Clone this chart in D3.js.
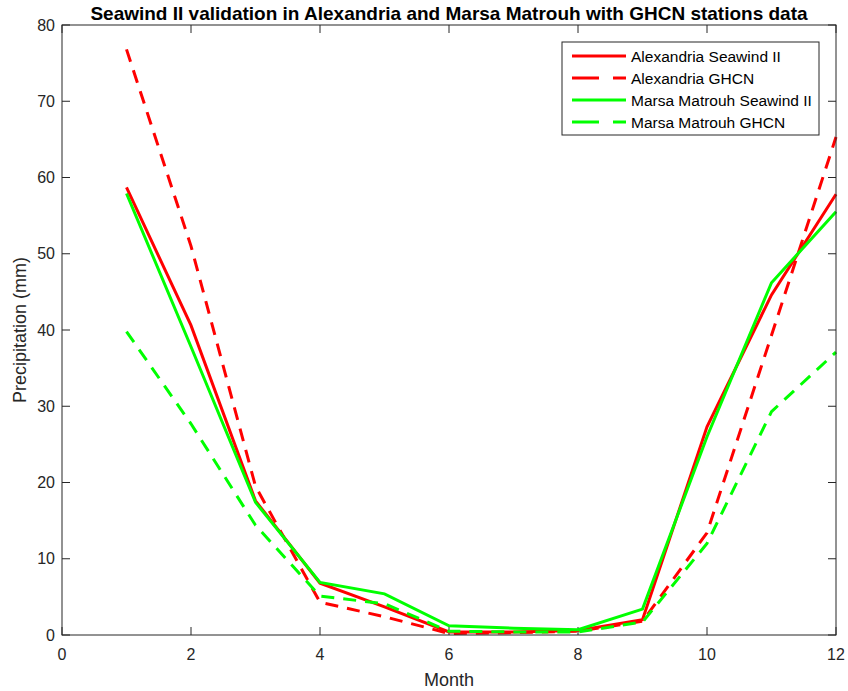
<!DOCTYPE html>
<html>
<head>
<meta charset="utf-8">
<script src="https://cdn.jsdelivr.net/npm/d3@7"></script>
<style>
  body { margin: 0; background: #fff; }
  svg { display: block; font-family: "Liberation Sans", Arial, Helvetica, sans-serif; }
</style>
</head>
<body>
<svg id="chart" width="848" height="691"></svg>
<script>
const months = [1, 2, 3, 4, 5, 6, 7, 8, 9, 10, 11, 12];
const alexSeawind = [58.7, 40.6, 17.6, 6.8, 3.7, 0.4, 0.4, 0.6, 2.0, 27.3, 44.6, 57.8];
const alexGhcn = [76.8, 51.0, 19.5, 4.3, 2.4, 0.2, 0.3, 0.5, 1.8, 13.4, 39.3, 65.3];
const matrouhSeawind = [57.9, 37.8, 17.4, 6.9, 5.4, 1.2, 0.9, 0.7, 3.4, 26.0, 46.2, 55.5];
const matrouhGhcn = [39.8, 27.7, 14.4, 5.1, 4.1, 0.5, 0.4, 0.4, 1.7, 12.0, 29.3, 37.1];
const xTicks = [0, 2, 4, 6, 8, 10, 12];
const yTicks = [0, 10, 20, 30, 40, 50, 60, 70, 80];

const series = [
  { name: "Alexandria Seawind II", values: alexSeawind, color: "#ff0000", dash: null },
  { name: "Alexandria GHCN", values: alexGhcn, color: "#ff0000", dash: "13,9" },
  { name: "Marsa Matrouh Seawind II", values: matrouhSeawind, color: "#00ff00", dash: null },
  { name: "Marsa Matrouh GHCN", values: matrouhGhcn, color: "#00ff00", dash: "13,9" }
];

const svg = d3.select("#chart");
const pl = 62, pr = 836, pt = 25, pb = 635;
const axisColor = "#262626";

var x = d3.scaleLinear().domain([0, 12]).range([pl, pr]);
var y = d3.scaleLinear().domain([0, 80]).range([pb, pt]);

// ticks, inward on all four sides (box on)
const tl = 8;
const g = svg.append("g").attr("stroke", axisColor).attr("stroke-width", 1);
xTicks.forEach(t => {
  g.append("line").attr("x1", x(t)).attr("x2", x(t)).attr("y1", pb).attr("y2", pb - tl);
  g.append("line").attr("x1", x(t)).attr("x2", x(t)).attr("y1", pt).attr("y2", pt + tl);
});
yTicks.forEach(t => {
  g.append("line").attr("x1", pl).attr("x2", pl + tl).attr("y1", y(t)).attr("y2", y(t));
  g.append("line").attr("x1", pr).attr("x2", pr - tl).attr("y1", y(t)).attr("y2", y(t));
});

svg.selectAll(".xlab").data(xTicks).join("text")
    .attr("x", d => x(d)).attr("y", 660)
    .attr("text-anchor", "middle").attr("font-size", 16).attr("fill", axisColor)
    .text(d => d);
svg.selectAll(".ylab").data(yTicks).join("text")
    .attr("x", pl - 7).attr("y", d => y(d) + 5.5)
    .attr("text-anchor", "end").attr("font-size", 16).attr("fill", axisColor)
    .text(d => d);

// lines
const line = d3.line().x((d, i) => x(months[i])).y(d => y(d));
series.forEach(s => {
  svg.append("path")
      .attr("d", line(s.values))
      .attr("fill", "none")
      .attr("stroke", s.color)
      .attr("stroke-width", 3)
      .attr("stroke-dasharray", s.dash);
});

// box
svg.append("rect")
    .attr("x", pl).attr("y", pt)
    .attr("width", pr - pl).attr("height", pb - pt)
    .attr("fill", "none").attr("stroke", axisColor).attr("stroke-width", 1);

// title + axis labels
svg.append("text")
    .attr("x", (pl + pr) / 2).attr("y", 20)
    .attr("text-anchor", "middle").attr("font-size", 19).attr("font-weight", "bold")
    .attr("fill", "#000")
    .text("Seawind II validation in Alexandria and Marsa Matrouh with GHCN stations data");
svg.append("text")
    .attr("x", (pl + pr) / 2).attr("y", 686)
    .attr("text-anchor", "middle").attr("font-size", 18).attr("fill", axisColor)
    .text("Month");
svg.append("text")
    .attr("transform", `translate(26,${(pt + pb) / 2}) rotate(-90)`)
    .attr("text-anchor", "middle").attr("font-size", 18).attr("fill", axisColor)
    .text("Precipitation (mm)");

// legend
const lg = svg.append("g").attr("transform", "translate(562,42)");
lg.append("rect").attr("width", 257).attr("height", 93)
    .attr("fill", "#fff").attr("stroke", axisColor).attr("stroke-width", 1);
series.forEach((s, i) => {
  const ly = 14 + i * 22;
  lg.append("line").attr("x1", 10).attr("x2", 64).attr("y1", ly).attr("y2", ly)
      .attr("stroke", s.color).attr("stroke-width", 3)
      .attr("stroke-dasharray", s.dash ? "27,14" : null);
  lg.append("text").attr("x", 69).attr("y", ly + 5.5)
      .attr("font-size", 15.5).attr("fill", "#000").text(s.name);
});
</script>
</body>
</html>
